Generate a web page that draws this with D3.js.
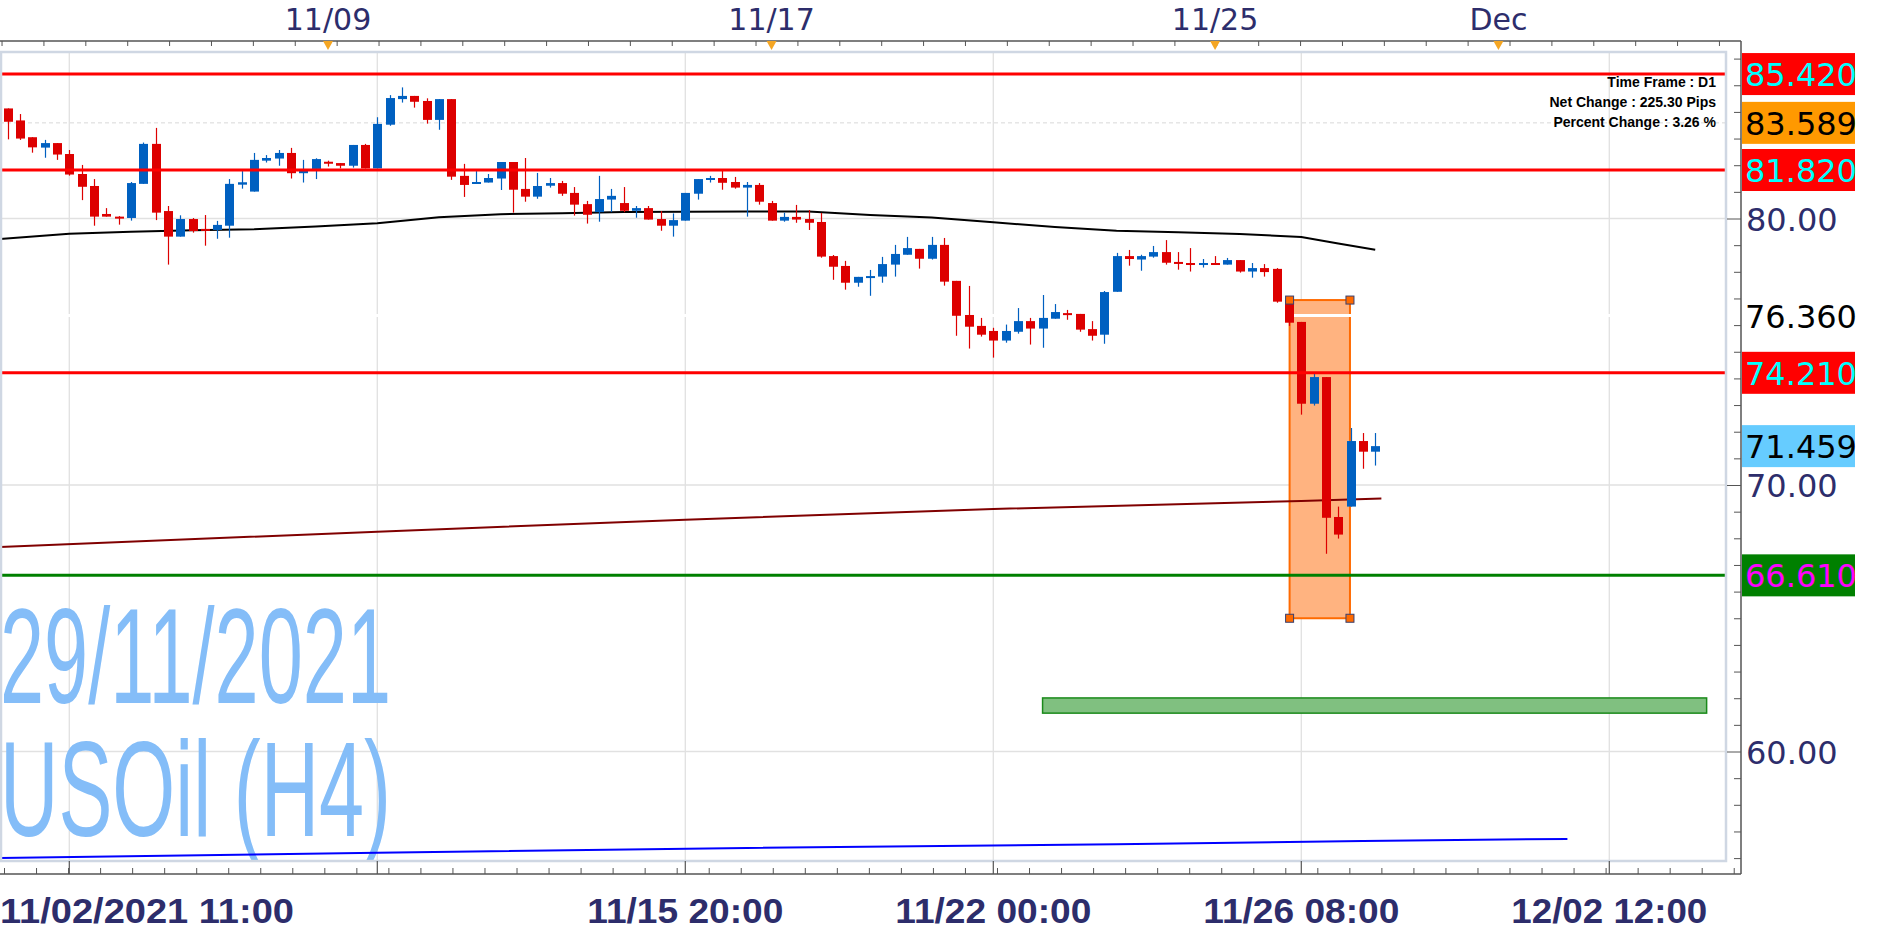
<!DOCTYPE html>
<html>
<head>
<meta charset="utf-8">
<script src="https://cdn.jsdelivr.net/npm/d3@7"></script>
<style>
  body { margin: 0; background: #fff; }
  svg { display: block; }
</style>
</head>
<body>
<div id="chart"></div>
<script>
// H4 candles, index 0 = first visible bar
const opens = [84.13,83.68,83.05,82.66,82.83,82.42,81.67,81.22,80.17,80.07,80.02,81.30,82.80,80.28,79.32,79.98,79.61,79.57,79.73,81.27,
  81.01,82.17,82.25,82.46,81.70,81.86,82.13,82.08,81.98,82.76,81.88,83.52,84.48,84.60,84.41,83.70,84.48,81.60,81.31,81.35,
  81.50,82.12,81.11,80.82,81.23,81.33,80.96,80.54,80.24,80.71,80.58,80.29,80.39,79.98,79.73,79.92,80.93,81.46,81.52,81.37,
  81.16,81.26,80.58,79.92,80.06,79.98,79.87,78.59,78.22,77.59,77.78,77.82,78.27,78.64,78.86,78.49,79.01,77.66,76.38,75.97,
  75.78,75.42,75.75,76.15,75.87,76.24,76.45,76.42,75.85,75.64,77.25,78.59,78.46,78.57,78.74,78.37,78.33,78.31,78.33,78.27,
  78.44,78.01,78.14,78.11,76.94,76.12,73.05,74.05,68.80,69.19,71.65,71.25];
const highs = [84.13,83.92,83.05,82.95,82.83,82.57,82.01,81.48,80.39,80.09,81.37,82.85,83.40,80.47,80.12,80.02,80.13,79.91,81.48,81.78,
  82.46,82.38,82.57,82.65,82.20,82.26,82.17,82.08,82.76,82.80,83.80,84.63,84.92,84.60,84.51,84.48,84.48,82.05,81.78,81.67,
  82.12,82.12,82.27,81.71,81.52,81.41,81.18,80.66,81.60,81.11,81.18,80.47,80.47,80.28,80.19,80.96,81.48,81.60,81.79,81.56,
  81.37,81.33,80.66,80.22,80.51,80.32,80.21,78.63,78.41,77.81,78.07,78.56,79.01,79.31,78.86,79.31,79.27,77.66,77.47,76.27,
  75.90,76.02,76.64,76.27,77.13,76.79,76.57,76.42,76.15,77.28,78.71,78.82,78.64,78.97,79.19,78.74,78.89,78.48,78.59,78.52,
  78.44,78.33,78.29,78.14,77.03,76.12,74.19,74.05,69.19,72.14,71.95,71.95];
const lows = [82.97,82.95,82.47,82.28,82.20,81.61,80.69,79.73,80.07,79.77,79.92,81.30,79.94,78.27,79.32,79.47,78.98,79.24,79.28,81.12,
  81.01,82.10,81.98,81.50,81.35,81.48,81.95,81.88,81.91,81.88,81.88,83.48,84.35,84.16,83.56,83.33,81.45,80.81,81.31,81.35,
  81.07,80.22,80.63,80.74,81.16,80.85,80.11,79.81,79.88,80.24,80.24,80.03,79.96,79.54,79.32,79.92,80.71,81.35,81.08,81.12,
  80.07,80.52,79.92,79.88,79.84,79.57,78.53,77.70,77.33,77.44,77.10,77.59,77.82,78.64,78.12,78.46,77.48,75.60,75.12,75.57,
  74.78,75.34,75.68,75.27,75.15,76.24,76.20,75.75,75.42,75.30,77.25,78.23,78.04,78.53,78.27,78.08,78.01,78.16,78.27,78.27,
  77.97,77.78,77.82,76.84,75.97,72.64,72.98,67.42,67.99,69.19,70.61,70.73];
const closes = [83.63,83.00,82.67,82.83,82.40,81.65,81.19,80.07,80.07,80.03,81.33,82.80,80.22,79.32,79.98,79.53,79.57,79.76,81.30,81.36,
  82.20,82.27,82.46,81.70,81.85,82.23,82.07,81.98,82.76,81.88,83.55,84.52,84.60,84.38,83.70,84.48,81.57,81.26,81.37,81.52,
  82.12,81.08,80.82,81.22,81.33,80.93,80.52,80.14,80.73,80.85,80.29,80.39,79.96,79.73,79.94,80.96,81.48,81.52,81.34,81.16,
  81.26,80.63,79.92,80.06,79.96,79.84,78.57,78.19,77.59,77.81,77.84,78.29,78.67,78.89,78.49,79.01,77.63,76.35,75.94,75.64,
  75.42,75.78,76.15,75.87,76.27,76.49,76.39,75.83,75.60,77.24,78.59,78.48,78.59,78.74,78.34,78.31,78.31,78.33,78.27,78.44,
  78.01,78.14,77.99,76.88,76.09,73.05,74.05,68.77,68.14,71.65,71.25,71.459];

// moving averages, sampled at bar indices (first sample sits on the left edge)
const maBlackIdx = [-0.63,5,10,15,20,25,30,35,40,45,50,55,60,65,70,75,80,85,90,95,100,105,108,111];
const maBlack = [79.23,79.43,79.50,79.56,79.60,79.70,79.82,80.05,80.16,80.20,80.24,80.25,80.26,80.26,80.13,80.04,79.86,79.68,79.54,79.48,79.42,79.31,79.06,78.83];
const maRedIdx = [-0.63,30,55,80,105,111.5];
const maRed = [67.67,68.25,68.70,69.10,69.40,69.49];
const maBlueIdx = [-0.63,30,60,90,110,126.6];
const maBlue = [56.00,56.20,56.38,56.52,56.64,56.72];

// horizontal levels and their axis labels
const levelValues = [85.42, 83.589, 81.82, 76.36, 74.21, 71.459, 66.61];
const levelText = ["85.420", "83.589", "81.820", "76.360", "74.210", "71.459", "66.610"];
const levelBg = ["#ff0000", "#ff9900", "#ff0000", "none", "#ff0000", "#66ccff", "#008000"];
const levelFg = ["#00ffff", "#000000", "#00ffff", "#000000", "#00ffff", "#000000", "#ff00ff"];

const priceTicks = [60, 70, 80];

// time axis
const gridIdx = [5, 30, 55, 80, 105, 130];
const bottomLabels = ["11/02/2021 11:00", "", "11/15 20:00", "11/22 00:00", "11/26 08:00", "12/02 12:00"];
const topIdx = [26, 62, 98, 121];
const topLabels = ["11/09", "11/17", "11/25", "Dec"];

const infoLines = ["Time Frame : D1", "Net Change : 225.30 Pips", "Percent Change : 3.26 %"];

const W = 1898, H = 936;
const plotR = 1726, axisX = 1741, plotT = 52, plotB = 861, topAxisY = 41, botAxisY = 874;

const x = d3.scaleLinear().domain([0, 100]).range([7.7, 1239.7]);
const y = d3.scaleLinear().domain([55.929, 86.398]).range([860, 48]);

const svg = d3.select("#chart").append("svg")
  .attr("width", W).attr("height", H)
  .style("font-family", "'DejaVu Sans', Verdana, sans-serif");

const plot = svg.append("g");
plot.append("clipPath").attr("id", "clip")
  .append("rect").attr("x", 0).attr("y", plotT).attr("width", plotR).attr("height", plotB - plotT);
const inner = plot.append("g").attr("clip-path", "url(#clip)");

// grid
inner.selectAll(".vg").data(gridIdx).join("line")
  .attr("x1", d => x(d)).attr("x2", d => x(d)).attr("y1", plotT).attr("y2", plotB)
  .attr("stroke", "#e1e1e1").attr("stroke-width", 1.3);
inner.selectAll(".hg").data(priceTicks).join("line")
  .attr("x1", 0).attr("x2", plotR).attr("y1", d => y(d)).attr("y2", d => y(d))
  .attr("stroke", "#e1e1e1").attr("stroke-width", 1.3);

// watermark
const wm = inner.append("g").attr("fill", "#84bdf8")
  .style("font-family", "'Liberation Sans Narrow', 'Liberation Sans', Arial, sans-serif");
wm.append("text").attr("x", 0).attr("y", 703).attr("font-size", 136)
  .attr("textLength", 391).attr("lengthAdjust", "spacingAndGlyphs").text("29/11/2021");
wm.append("text").attr("x", 0).attr("y", 836).attr("font-size", 136)
  .attr("textLength", 391).attr("lengthAdjust", "spacingAndGlyphs").text("USOil (H4)");

// green target box
inner.append("rect")
  .attr("x", x(84)).attr("width", x(137.9) - x(84))
  .attr("y", y(62.01)).attr("height", y(61.44) - y(62.01))
  .attr("fill", "#80c080").attr("stroke", "#1a8a1a").attr("stroke-width", 1.5);

// orange drop box
const boxL = x(104.05), boxR = x(108.95), boxT = y(76.94), boxB = y(65.0);
inner.append("rect").attr("x", boxL).attr("y", boxT).attr("width", boxR - boxL).attr("height", boxB - boxT)
  .attr("fill", "#ffb380").attr("stroke", "#ff6a00").attr("stroke-width", 2);

// dashed level
inner.append("line").attr("x1", 0).attr("x2", plotR)
  .attr("y1", y(83.589)).attr("y2", y(83.589))
  .attr("stroke", "#d8d8d8").attr("stroke-width", 1).attr("stroke-dasharray", "4,3");

// white level line
inner.append("line").attr("x1", 0).attr("x2", plotR)
  .attr("y1", y(76.36)).attr("y2", y(76.36))
  .attr("stroke", "#ffffff").attr("stroke-width", 3);

// moving averages
const lineGen = d3.line().x(d => x(d[0])).y(d => y(d[1]));
inner.append("path").datum(maBlueIdx.map((d, i) => [d, maBlue[i]]))
  .attr("d", lineGen).attr("fill", "none").attr("stroke", "#0000ff").attr("stroke-width", 2);
inner.append("path").datum(maRedIdx.map((d, i) => [d, maRed[i]]))
  .attr("d", lineGen).attr("fill", "none").attr("stroke", "#800000").attr("stroke-width", 2);
inner.append("path").datum(maBlackIdx.map((d, i) => [d, maBlack[i]]))
  .attr("d", lineGen).attr("fill", "none").attr("stroke", "#000000").attr("stroke-width", 2);

// candles
const bars = d3.range(opens.length);
const up = i => closes[i] >= opens[i];
inner.selectAll(".wick").data(bars).join("line")
  .attr("x1", i => Math.round(x(i)) + 0.5).attr("x2", i => Math.round(x(i)) + 0.5)
  .attr("y1", i => y(highs[i])).attr("y2", i => y(lows[i]))
  .attr("stroke", i => up(i) ? "#0060c0" : "#dd0000").attr("stroke-width", 1.2);
inner.selectAll(".body").data(bars).join("rect")
  .attr("x", i => Math.round(x(i)) - 4)
  .attr("width", 9)
  .attr("y", i => y(Math.max(opens[i], closes[i])))
  .attr("height", i => Math.max(2, Math.abs(y(opens[i]) - y(closes[i]))))
  .attr("fill", i => up(i) ? "#0060c0" : "#dd0000");

// red / green levels on top
const solid = [[85.42, "#ff0000"], [81.82, "#ff0000"], [74.21, "#ff0000"], [66.61, "#008000"]];
inner.selectAll(".lvl").data(solid).join("line")
  .attr("x1", 0).attr("x2", plotR).attr("y1", d => y(d[0])).attr("y2", d => y(d[0]))
  .attr("stroke", d => d[1]).attr("stroke-width", 3);

// box handles
const handles = [[boxL, boxT], [boxR, boxT], [boxL, boxB], [boxR, boxB]];
inner.selectAll(".hdl").data(handles).join("rect")
  .attr("x", d => d[0] - 4).attr("y", d => d[1] - 4).attr("width", 8).attr("height", 8)
  .attr("fill", "#ff6a00").attr("stroke", "#3a3f6e").attr("stroke-width", 1);

// info text
svg.append("g").attr("text-anchor", "end").attr("font-weight", "bold").attr("font-size", 14)
  .style("font-family", "'Liberation Sans Narrow', 'Liberation Sans', Arial, sans-serif")
  .selectAll("text").data(infoLines).join("text")
  .attr("x", 1716).attr("y", (d, i) => 87 + i * 20).text(d => d);

// plot border
svg.append("rect").attr("x", 1).attr("y", plotT).attr("width", plotR - 1).attr("height", plotB - plotT)
  .attr("fill", "none").attr("stroke", "#cfd7e3").attr("stroke-width", 2.5);

// axes frame
const axisCol = "#555555";
svg.append("line").attr("x1", 0).attr("x2", axisX).attr("y1", topAxisY).attr("y2", topAxisY).attr("stroke", axisCol).attr("stroke-width", 1.5);
svg.append("line").attr("x1", 0).attr("x2", axisX).attr("y1", botAxisY).attr("y2", botAxisY).attr("stroke", axisCol).attr("stroke-width", 1.5);
svg.append("line").attr("x1", axisX).attr("x2", axisX).attr("y1", topAxisY).attr("y2", botAxisY).attr("stroke", axisCol).attr("stroke-width", 1.5);

// price axis ticks
const yAxis = d3.axisLeft(y).tickValues(d3.range(56, 87)).tickSize(7).tickFormat("");
const ya = svg.append("g").attr("transform", `translate(${axisX},0)`).call(yAxis);
ya.select(".domain").remove();
ya.selectAll(".tick line").attr("stroke", axisCol)
  .attr("x2", d => priceTicks.includes(d) ? -14 : -7);

svg.selectAll(".plab").data(priceTicks).join("text")
  .attr("x", 1746).attr("y", d => y(d) + 12).attr("font-size", 32).attr("fill", "#2d2d6b")
  .text(d => d.toFixed(2));

// level labels
const lab = svg.append("g").selectAll("g").data(levelValues).join("g")
  .attr("transform", d => `translate(1742,${y(d)})`);
lab.append("rect").attr("x", 0).attr("y", -21).attr("width", 113).attr("height", 42)
  .attr("fill", (d, i) => levelBg[i]);
lab.append("text").attr("x", 3).attr("y", 12).attr("font-size", 32)
  .attr("fill", (d, i) => levelFg[i]).text((d, i) => levelText[i]);

// top time axis
const topAxis = d3.axisBottom(x).tickValues(d3.range(-0.5, 141, 3.4)).tickSize(5).tickFormat("");
const ta = svg.append("g").attr("transform", `translate(0,${topAxisY})`).call(topAxis);
ta.select(".domain").remove();
ta.selectAll(".tick line").attr("stroke", axisCol);
svg.selectAll(".tri").data(topIdx).join("path")
  .attr("d", d => `M${x(d) - 5},${topAxisY} L${x(d) + 5},${topAxisY} L${x(d)},${topAxisY + 9}Z`)
  .attr("fill", "#f5a623");
svg.selectAll(".tlab").data(topIdx).join("text")
  .attr("x", d => x(d)).attr("y", 30).attr("text-anchor", "middle")
  .attr("font-size", 30).attr("fill", "#2d2d6b").text((d, i) => topLabels[i]);

// bottom time axis
const botAxis = d3.axisTop(x).tickValues(d3.range(-0.3, 141, 2.6)).tickSize(6).tickFormat("");
const ba = svg.append("g").attr("transform", `translate(0,${botAxisY})`).call(botAxis);
ba.select(".domain").remove();
ba.selectAll(".tick line").attr("stroke", axisCol);
svg.selectAll(".bmaj").data(gridIdx).join("line")
  .attr("x1", d => x(d)).attr("x2", d => x(d)).attr("y1", plotB).attr("y2", botAxisY)
  .attr("stroke", axisCol).attr("stroke-width", 1.2);

svg.append("g").attr("fill", "#2d2d6b").attr("font-weight", "bold").attr("font-size", 35)
  .style("font-family", "'Liberation Sans Narrow', 'Liberation Sans', Arial, sans-serif")
  .selectAll("text").data(gridIdx.map((d, i) => [d, bottomLabels[i]]).filter(d => d[1]))
  .join("text")
  .attr("x", (d, i) => i === 0 ? 0 : x(d[0]) - 98)
  .attr("y", 923)
  .attr("textLength", (d, i) => i === 0 ? 294 : 196)
  .attr("lengthAdjust", "spacingAndGlyphs")
  .text(d => d[1]);
</script>
</body>
</html>
